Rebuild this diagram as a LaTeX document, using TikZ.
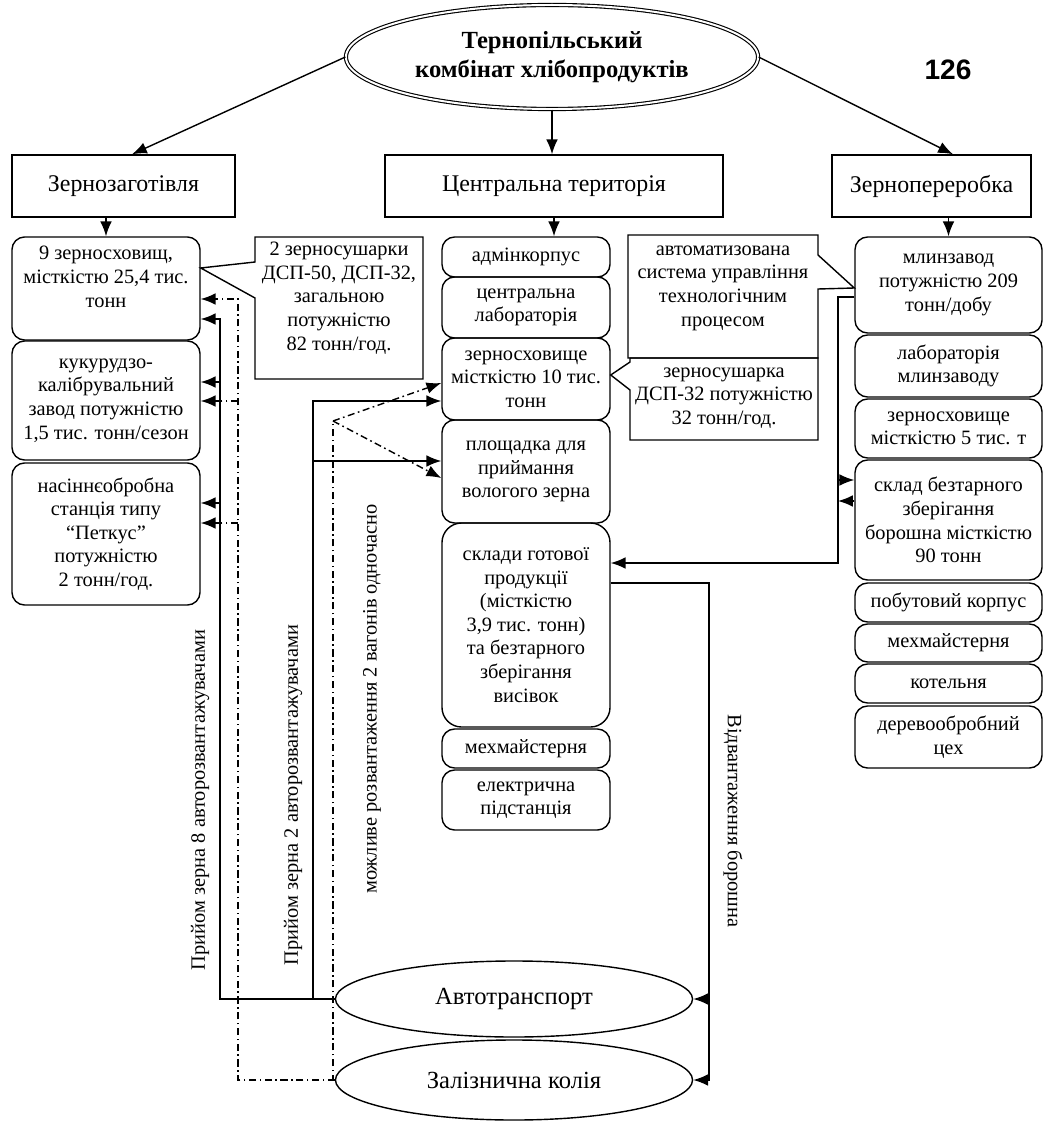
\documentclass[tikz,border=0pt]{standalone}
\usepackage{fontspec}
\setmainfont{Liberation Serif}
\newfontfamily\pagenumfont{Liberation Sans}
\usetikzlibrary{arrows.meta}
\usetikzlibrary{shapes.geometric}
\tikzset{>={Latex[length=3.7mm,width=2.9mm]}}
\tikzset{
    unit/.style={draw, rounded corners=9pt, align=center, inner sep=1pt, font=\fontsize{14.5}{16.8}\selectfont},
    dept/.style={draw, align=center, font=\fontsize{17}{20}\selectfont},
    transport/.style={draw, ellipse, font=\fontsize{17.5}{20}\selectfont},
    route/.style={line width=1pt},
    railroute/.style={line width=1pt, dash pattern=on 5pt off 2.5pt on 1.2pt off 2.5pt},
    caption/.style={align=center, font=\fontsize{14.5}{16.8}\selectfont},
}

\begin{document}
\begin{tikzpicture}[x=0.025cm, y=-0.025cm, line width=1pt]
            \useasboundingbox (0,0) rectangle (1053,1122);

            \node[draw, ellipse, double, double distance=1.4pt, line width=0.8pt, minimum width=10.3cm, minimum height=2.6cm, align=center, font=\bfseries\fontsize{17.5}{20.5}\selectfont] (kombinat) at (552,57) {Тернопільський\\комбінат хлібопродуктів};
            \node[font=\pagenumfont\bfseries\fontsize{20}{24}\selectfont] (pagenum) at (948,70) {126};

            \node[dept, minimum width=5.575cm, minimum height=1.55cm] (zag) at (123.5,186) {Зернозаготівля};
            \node[dept, minimum width=8.45cm, minimum height=1.55cm] (centr) at (554,186) {Центральна територія};
            \node[dept, minimum width=4.975cm, minimum height=1.55cm] (pererob) at (931.5,186) {Зернопереробка};

            \node[unit, minimum width=4.7cm, minimum height=2.575cm] (zerno9) at (106,288.5) {9 зерносховищ,\\місткістю 25,4 тис.\\тонн\\~};
            \node[unit, minimum width=4.7cm, minimum height=2.975cm] (kukurudz) at (106,400.5) {кукурудзо-\\калібрувальний\\завод потужністю\\1,5 тис. тонн/сезон};
            \node[unit, minimum width=4.7cm, minimum height=3.55cm] (nasin) at (106,534) {насіннєобробна\\станція типу\\“Петкус”\\потужністю\\2 тонн/год.};

            \node[unit, minimum width=4.2cm, minimum height=1.0cm] (admin) at (526,257) {адмінкорпус};
            \node[unit, minimum width=4.2cm, minimum height=1.525cm] (lab) at (526,307.5) {центральна\\лабораторія};
            \node[unit, minimum width=4.2cm, minimum height=2.05cm] (zs10) at (526,379) {зерносховище\\місткістю 10 тис.\\тонн};
            \node[unit, minimum width=4.2cm, minimum height=2.575cm] (ploshch) at (526,471.5) {площадка для\\приймання\\вологого зерна};
            \node[unit, rounded corners=14pt, minimum width=4.2cm, minimum height=5.1cm] (sklady) at (526,625) {склади готової\\продукції\\(місткістю\\3,9 тис. тонн)\\та безтарного\\зберігання\\висівок};
            \node[unit, minimum width=4.2cm, minimum height=0.975cm] (mekh) at (526,748.5) {мехмайстерня};
            \node[unit, minimum width=4.2cm, minimum height=1.5cm] (elektr) at (526,800) {електрична\\підстанція};

            \node[unit, minimum width=4.675cm, minimum height=2.4cm] (mlyn) at (948.5,285) {млинзавод\\потужністю 209\\тонн/добу};
            \node[unit, minimum width=4.675cm, minimum height=1.55cm] (labm) at (948.5,366) {лабораторія\\млинзаводу};
            \node[unit, minimum width=4.675cm, minimum height=1.475cm] (zs5) at (948.5,428.5) {зерносховище\\місткістю 5 тис. т};
            \node[unit, minimum width=4.675cm, minimum height=3.0cm] (sklad) at (948.5,520) {склад безтарного\\зберігання\\борошна місткістю\\90 тонн};
            \node[unit, minimum width=4.675cm, minimum height=0.975cm] (pobut) at (948.5,602.5) {побутовий корпус};
            \node[unit, minimum width=4.675cm, minimum height=0.95cm] (mekhm) at (948.5,643) {мехмайстерня};
            \node[unit, minimum width=4.675cm, minimum height=0.975cm] (kotel) at (948.5,683.5) {котельня};
            \node[unit, minimum width=4.675cm, minimum height=1.55cm] (derevo) at (948.5,737) {деревообробний\\цех};

            \node[transport, minimum width=8.925cm, minimum height=1.9cm] (avto) at (514,999) {Автотранспорт};
            \node[transport, minimum width=8.925cm, minimum height=2.0cm] (zal) at (514,1080) {Залізнична колія};

            \draw (255,237) -- (423,237) -- (423,379) -- (255,379) -- (255,298) -- (zerno9.east |- 0,268) -- (255,262) -- cycle;
            \node[caption] (sush2) at (339,298) {2 зерносушарки\\ДСП-50, ДСП-32,\\загальною\\потужністю\\82 тонн/год.};
            \draw (628,235) -- (818,235) -- (818,255) -- (mlyn.west |- 0,288) -- (818,289) -- (818,358) -- (628,358) -- cycle;
            \node[caption] (asu) at (723,288) {автоматизована\\система управління\\технологічним\\процесом};
            \draw (630,358) -- (818,358) -- (818,440) -- (630,440) -- (630,390) -- (zs10.east |- 0,375) -- (630,362) -- cycle;
            \node[caption] (sush1) at (724,398) {зерносушарка\\ДСП-32 потужністю\\32 тонн/год.};

            \draw[->] (kombinat.west) -- (132,0 |- zag.north);
            \draw[->] (kombinat.south) -- (kombinat.south |- centr.north);
            \draw[->] (kombinat.east) -- (953,0 |- pererob.north);
            \draw[->] (zerno9.north |- zag.south) -- (zerno9.north);
            \draw[->] (centr.south) -- (centr.south |- admin.north);
            \draw[->] (mlyn.north |- pererob.south) -- (mlyn.north);

            \draw[route, ->] (avto.west) -| (220,319) -- (zerno9.east |- 0,319);
            \foreach \y/\target in {382/kukurudz, 503/nasin} {
                \draw[route, ->] (220,\y) -- (\target.east |- 0,\y);
            }
            \draw[railroute, ->] (zal.west) -| (238,299) -- (zerno9.east |- 0,299);
            \foreach \y/\target in {401/kukurudz, 523/nasin} {
                \draw[railroute, ->] (238,\y) -- (\target.east |- 0,\y);
            }

            \draw[route, ->] (313,0 |- avto.west) |- (zs10.west |- 0,401);
            \draw[route, ->] (313,461) -- (ploshch.west |- 0,461);
            \coordinate (fork) at (333,421);
            \draw[railroute] (zal.west) -| (fork);
            \draw[railroute, ->] (fork) -- (zs10.west |- 0,383);
            \draw[railroute, ->] (fork) -- (ploshch.west |- 0,478);

            \draw[route, ->] (sklady.east |- 0,583) -| (709,0 |- zal.east) -- (zal.east);
            \draw[route, ->] (709,0 |- avto.east) -- (avto.east);
            \draw[route, ->] (mlyn.west |- 0,297) -| (838,563) -- (sklady.east |- 0,563);
            \draw[route, ->] (838,480) -- (sklad.west |- 0,480);
            \draw[route, ->] (sklad.west |- 0,501) -- (838,501);

            \node[caption, rotate=90] (priiom8) at (200,800) {Прийом зерна 8 авторозвантажувачами};
            \node[caption, rotate=90] (priiom2) at (293,795) {Прийом зерна 2 авторозвантажувачами};
            \node[caption, rotate=90] (vagony) at (372,699) {можливе розвантаження 2 вагонів одночасно};
            \node[caption, rotate=-90] (vidvant) at (733,821) {Відвантаження борошна};
        \end{tikzpicture}
\end{document}
